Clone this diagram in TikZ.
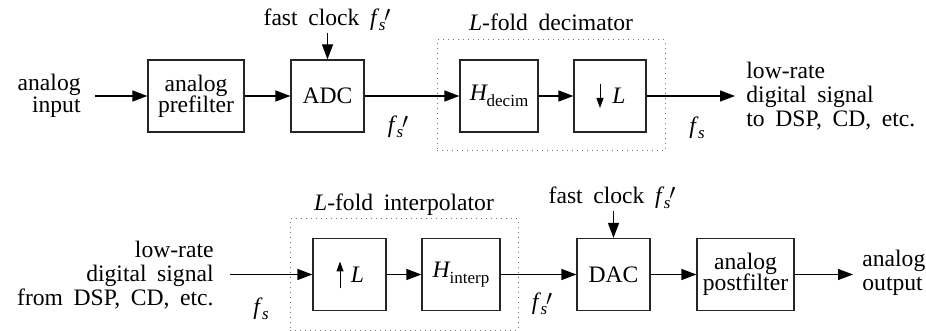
\documentclass[tikz,border=0pt]{standalone}
\usepackage{fontspec}
\setmainfont{Liberation Serif}
\usetikzlibrary{arrows.meta}
\newcommand\dfont{\fontsize{11.8}{12}\selectfont\spaceskip=0.45em\relax}
\newcommand\ssub{\raisebox{-0.5ex}{\fontsize{8.5}{8.5}\selectfont\itshape s}}
\newcommand\fsub{\textit{f}\kern-0.02em\ssub}
\newcommand\fsp{\textit{f}\kern-0.02em\ssub\kern-0.05em\raisebox{0.4ex}{\fontsize{11}{11}\selectfont$\prime$}}
\newcommand\Hsub[1]{\textit{H}\kern-0.05em\raisebox{-0.55ex}{\fontsize{8.5}{8.5}\selectfont #1}}
\begin{document}
\begin{tikzpicture}[x=0.5pt,y=-0.5pt,font=\dfont,
  box/.style={draw=black!85,line width=0.6pt,minimum height=36pt,inner sep=0pt,align=center},
  sig/.style={-{Triangle[length=7.5pt,width=5.5pt]},line width=0.6pt},
  small/.style={-{Triangle[length=5pt,width=3.5pt]},line width=0.5pt},
  lbl/.style={inner sep=0pt},
  grp/.style={draw=black!55,dotted,line width=0.5pt,inner sep=0pt}]
\useasboundingbox (0,0) rectangle (926,331);

% ---- top row: analog to digital ----
\node[lbl,anchor=east,align=right] (ain) at (81,96) {analog\\[-1pt]input};
\coordinate (ainE) at (95,96);
\node[box,minimum width=48pt] (pre) at (196,96) {analog\\[-1.5pt]prefilter};
\node[box,minimum width=36.5pt] (adc) at (327.5,96) {ADC};
\node[lbl] (clk1) at (327,20) {fast clock \fsp};
\coordinate (c1) at (327.5,33);
\node[grp,minimum width=114pt,minimum height=55.5pt] (dec) at (551,95.5) {};
\node[lbl] (decl) at (551,22) {\textit{L}-fold decimator};
\node[box,minimum width=39pt] (hd) at (499,96) {\Hsub{decim}};
\node[box,minimum width=36pt] (dn) at (610,96) {\hspace*{9pt}\textit{L}};
\coordinate (outT) at (735,96);
\node[lbl] (fsp1) at (398,127) {\fsp};
\node[lbl] (fs1) at (697,128) {\fsub};
\node[lbl,anchor=west,align=left] (lowout) at (746,96) {low-rate\\digital signal\\to DSP, CD, etc.};

\draw[sig] (ainE) -- (pre.west);
\draw[sig] (pre) -- (adc);
\draw[sig] (c1) -- (adc.north);
\draw[sig] (adc) -- (hd);
\draw[sig] (hd) -- (dn);
\draw[sig] (dn.east) -- (outT);
\draw[small] ([shift={(-10,-12)}]dn.center) -- ([shift={(-10,12)}]dn.center);

% ---- bottom row: digital to analog ----
\node[lbl,anchor=east,align=right] (lowin) at (214,275) {low-rate\\digital signal\\from DSP, CD, etc.};
\coordinate (inB) at (230,274.5);
\node[grp,minimum width=114pt,minimum height=55.5pt] (intp) at (404,274.5) {};
\node[lbl] (intpl) at (404,205) {\textit{L}-fold interpolator};
\node[box,minimum width=36.5pt] (up) at (349.5,274.5) {\hspace*{8pt}\textit{L}};
\node[box,minimum width=39pt] (hi) at (461,274.5) {\Hsub{interp}};
\node[box,minimum width=36.5pt] (dac) at (613.5,274.5) {DAC};
\node[lbl] (clk2) at (612,198) {fast clock \fsp};
\coordinate (c2) at (613.5,211);
\node[box,minimum width=48.5pt] (post) at (745.5,274.5) {analog\\[-1.5pt]postfilter};
\coordinate (outB) at (853,274.5);
\node[lbl,anchor=west,align=left] (aout) at (862,273) {analog\\output};
\node[lbl] (fs2) at (261,309) {\fsub};
\node[lbl] (fsp2) at (542,304) {\fsp};

\draw[sig] (inB) -- (up.west);
\draw[sig] (up) -- (hi);
\draw[sig] (hi) -- (dac);
\draw[sig] (c2) -- (dac.north);
\draw[sig] (dac) -- (post);
\draw[sig] (post.east) -- (outB);
\draw[small] ([shift={(-9.5,14)}]up.center) -- ([shift={(-9.5,-13)}]up.center);
\end{tikzpicture}
\end{document}
